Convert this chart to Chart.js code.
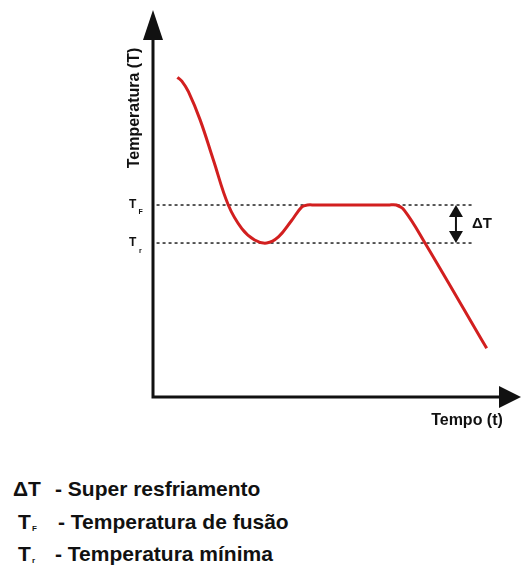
<!DOCTYPE html>
<html>
<head>
<meta charset="utf-8">
<script src="https://cdn.jsdelivr.net/npm/chart.js@4"></script>
<style>
  html, body { margin: 0; padding: 0; background: #fff; }
  #wrap { position: relative; width: 522px; height: 569px; overflow: hidden; }
  #c { position: absolute; left: 0; top: 0; }
  .leg { position: absolute; font-family: "Liberation Sans", Arial, sans-serif; font-weight: bold;
         font-size: 21px; line-height: 21px; color: #111; white-space: nowrap; }
  .sub { position: absolute; font-family: "Liberation Sans", Arial, sans-serif; font-weight: bold;
         font-size: 8px; line-height: 8px; color: #111; }
</style>
</head>
<body>
<div id="wrap">
  <canvas id="c" width="522" height="440"></canvas>
  <div class="leg" style="left:13px;top:478px">ΔT</div>
  <div class="leg" style="left:55px;top:478px">- Super resfriamento</div>
  <div class="leg" style="left:18px;top:511px">T</div>
  <div class="sub" style="left:32px;top:525px">F</div>
  <div class="leg" style="left:58px;top:511px">- Temperatura de fusão</div>
  <div class="leg" style="left:18px;top:543px">T</div>
  <div class="sub" style="left:32px;top:557px">r</div>
  <div class="leg" style="left:55px;top:543px">- Temperatura mínima</div>
</div>
<script>
// curva de resfriamento (tempo x temperatura, unidades arbitrarias)
const curveTime = [6.4, 7.6, 9.4, 12.6, 16.2, 20.3, 24.0, 27.5, 30.8,
                   34.0, 37.5, 40.4, 41.9, 44.0, 64.0, 66.2, 68.4, 74.0, 90.9];
const curveTemp = [83.6, 82.6, 79.8, 72.4, 61.9, 50.0, 43.8, 40.8, 40.0,
                   41.6, 45.8, 49.5, 50.0, 50.0, 50.0, 50.0, 48.6, 40.1, 12.3];

// niveis de referencia
const tempFusao = 50;   // T_F
const tempMinima = 40;  // T_r
const refLineTime = [0.7, 86.8];
const deltaTime = 82.5;

const INK = "#111";

const curveData = curveTime.map((t, i) => ({ x: t, y: curveTemp[i] }));
const fusaoLine = refLineTime.map(t => ({ x: t, y: tempFusao }));
const minLine = refLineTime.map(t => ({ x: t, y: tempMinima }));

function arrowHead(ctx, tipX, tipY, dir, len, half) {
  // dir: 'up' | 'down' | 'right'
  ctx.beginPath();
  if (dir === "up") {
    ctx.moveTo(tipX, tipY);
    ctx.lineTo(tipX - half, tipY + len);
    ctx.lineTo(tipX + half, tipY + len);
  } else if (dir === "down") {
    ctx.moveTo(tipX, tipY);
    ctx.lineTo(tipX - half, tipY - len);
    ctx.lineTo(tipX + half, tipY - len);
  } else {
    ctx.moveTo(tipX, tipY);
    ctx.lineTo(tipX - len, tipY - half);
    ctx.lineTo(tipX - len, tipY + half);
  }
  ctx.closePath();
  ctx.fill();
}

const diagramPlugin = {
  id: "diagram",
  afterDraw(chart) {
    const { ctx, chartArea, scales } = chart;
    const x = scales.x, y = scales.y;
    const ox = chartArea.left - 1, oy = chartArea.bottom;
    ctx.save();
    ctx.fillStyle = INK;
    ctx.strokeStyle = INK;

    // eixos com setas
    ctx.lineWidth = 3;
    ctx.beginPath();
    ctx.moveTo(ox, oy + 1.5);
    ctx.lineTo(ox, chartArea.top + 20);
    ctx.moveTo(ox - 1.5, oy);
    ctx.lineTo(chartArea.right - 15, oy);
    ctx.stroke();
    arrowHead(ctx, ox, chartArea.top, "up", 30, 10);
    arrowHead(ctx, chartArea.right + 1, oy, "right", 22, 11);

    // titulos dos eixos
    ctx.font = "bold 16px 'Liberation Sans', Arial, sans-serif";
    ctx.textAlign = "center";
    ctx.textBaseline = "middle";
    ctx.save();
    ctx.translate(135, 108);
    ctx.rotate(-Math.PI / 2);
    ctx.fillText("Temperatura (T)", 0, 0);
    ctx.restore();
    ctx.textBaseline = "alphabetic";
    ctx.fillText("Tempo (t)", 467, 425);

    // rotulos T_F e T_r
    const yF = y.getPixelForValue(tempFusao);
    const yR = y.getPixelForValue(tempMinima);
    ctx.textAlign = "left";
    ctx.textBaseline = "middle";
    ctx.font = "bold 12px 'Liberation Sans', Arial, sans-serif";
    ctx.fillText("T", 129, yF);
    ctx.fillText("T", 129, yR);
    ctx.font = "bold 7px 'Liberation Sans', Arial, sans-serif";
    ctx.fillText("F", 138.5, yF + 7);
    ctx.fillText("r", 139, yR + 8);

    // seta dupla do delta T
    const xd = x.getPixelForValue(deltaTime);
    ctx.lineWidth = 2;
    ctx.beginPath();
    ctx.moveTo(xd, yF + 8);
    ctx.lineTo(xd, yR - 8);
    ctx.stroke();
    arrowHead(ctx, xd, yF, "up", 12, 7);
    arrowHead(ctx, xd, yR, "down", 12, 7);
    ctx.font = "bold 15px 'Liberation Sans', Arial, sans-serif";
    ctx.fillText("ΔT", xd + 16, (yF + yR) / 2);
    ctx.restore();
  }
};

new Chart(document.getElementById("c"), {
  type: "line",
  data: {
    datasets: [
      {
        data: curveData,
        borderColor: "#d21f1f",
        borderWidth: 3,
        pointRadius: 0,
        tension: 0.4,
        fill: false,
        order: 0,
      },
      {
        data: fusaoLine,
        borderColor: "#222",
        borderWidth: 1.5,
        borderDash: [3, 3],
        pointRadius: 0,
        fill: false,
        order: 1,
      },
      {
        data: minLine,
        borderColor: "#222",
        borderWidth: 1.5,
        borderDash: [3, 3],
        pointRadius: 0,
        fill: false,
        order: 1,
      },
    ],
  },
  options: {
    responsive: false,
    animation: false,
    layout: { padding: { left: 154, right: 2, top: 10, bottom: 43 } },
    plugins: {
      legend: { display: false },
      tooltip: { enabled: false },
      title: { display: false },
    },
    scales: {
      x: { type: "linear", min: 0, max: 100, display: false },
      y: { type: "linear", min: -0.5, max: 101.3, display: false },
    },
  },
  plugins: [diagramPlugin],
});
</script>
</body>
</html>
